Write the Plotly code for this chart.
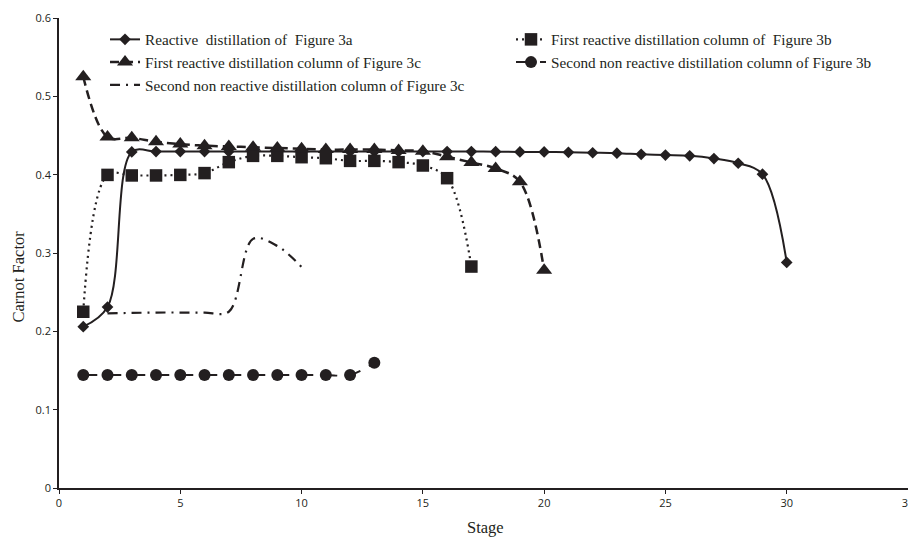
import plotly.graph_objects as go

# ---- data ----
stages_3a = list(range(1, 31))
carnot_3a = [0.206, 0.231, 0.429, 0.4295, 0.4295, 0.4295, 0.4295, 0.4295, 0.4295, 0.4295,
             0.4295, 0.4295, 0.4295, 0.4295, 0.4295, 0.4295, 0.4295, 0.4293, 0.429, 0.429,
             0.4285, 0.428, 0.4275, 0.426, 0.425, 0.424, 0.4206, 0.4146, 0.4006, 0.288]

stages_3b_first = list(range(1, 18))
carnot_3b_first = [0.225, 0.3997, 0.399, 0.399, 0.3997, 0.402, 0.416, 0.424, 0.424, 0.4223,
                   0.421, 0.4176, 0.4176, 0.416, 0.4117, 0.3955, 0.2827]

stages_3c_first = list(range(1, 21))
carnot_3c_first = [0.525, 0.448, 0.447, 0.442, 0.439, 0.437, 0.436, 0.435, 0.434, 0.433,
                   0.432, 0.432, 0.432, 0.431, 0.430, 0.423, 0.4155, 0.408, 0.391, 0.278]

stages_3b_second = list(range(1, 14))
carnot_3b_second = [0.1443, 0.1443, 0.1443, 0.1443, 0.1443, 0.1443, 0.1443, 0.1443, 0.1443,
                    0.1443, 0.1443, 0.1443, 0.160]

stages_3c_second = list(range(2, 11))
carnot_3c_second = [0.223, 0.2235, 0.224, 0.224, 0.224, 0.225, 0.318, 0.309, 0.282]

names = [
    "Reactive  distillation of  Figure 3a",
    "First reactive distillation column of  Figure 3b",
    "First reactive distillation column of Figure 3c",
    "Second non reactive distillation column of Figure 3b",
    "Second non reactive distillation column of Figure 3c",
]

x_ticks = [0, 5, 10, 15, 20, 25, 30, 35]
y_ticks = [0, 0.1, 0.2, 0.3, 0.4, 0.5, 0.6]
y_tick_text = ["0", "0.1", "0.2", "0.3", "0.4", "0.5", "0.6"]

INK = "#231f20"
SERIF = "Liberation Serif"
fig = go.Figure()

fig.add_trace(go.Scatter(
    x=stages_3a, y=carnot_3a, name=names[0], mode="lines+markers", legend="legend",
    line=dict(color=INK, width=2, shape="spline", dash="solid"),
    marker=dict(symbol="diamond", size=9, color=INK)))
fig.add_trace(go.Scatter(
    x=stages_3b_first, y=carnot_3b_first, name=names[1], mode="lines+markers", legend="legend2",
    line=dict(color=INK, width=2.2, shape="spline", dash="2px,4px"),
    marker=dict(symbol="square", size=12.5, color=INK)))
fig.add_trace(go.Scatter(
    x=stages_3c_first, y=carnot_3c_first, name=names[2], mode="lines+markers", legend="legend",
    line=dict(color=INK, width=2.5, shape="spline", dash="9px,5px"),
    marker=dict(symbol="triangle-up", size=14, color=INK)))
fig.add_trace(go.Scatter(
    x=stages_3b_second, y=carnot_3b_second, name=names[3], mode="lines+markers", legend="legend2",
    line=dict(color=INK, width=2, shape="spline", dash="14px,10px"),
    marker=dict(symbol="circle", size=12, color=INK)))
fig.add_trace(go.Scatter(
    x=stages_3c_second, y=carnot_3c_second, name=names[4], mode="lines", legend="legend",
    line=dict(color=INK, width=2.2, shape="spline", dash="10px,6px,2px,6px")))

legend_common = dict(orientation="v", yanchor="top", xanchor="left",
                     font=dict(family=SERIF, size=15.2, color=INK),
                     bgcolor="rgba(0,0,0,0)", itemclick=False, tracegroupgap=0)

fig.update_layout(
    width=908, height=531,
    margin=dict(l=51, r=8, t=10, b=51),
    paper_bgcolor="white", plot_bgcolor="white",
    font=dict(family=SERIF, color=INK),
    legend=dict(x=0.0542, y=0.9894, **legend_common),
    legend2=dict(x=0.5324, y=0.9894, **legend_common),
    xaxis=dict(range=[0, 35], tickvals=x_ticks, ticktext=[str(v) for v in x_ticks],
               showgrid=False, zeroline=False, showline=True, linecolor=INK, linewidth=1.5,
               ticks="outside", ticklen=4, tickcolor=INK, tickwidth=1.2, automargin=False,
               tickfont=dict(family="Open Sans", size=11, color=INK)),
    yaxis=dict(range=[0, 0.6], tickvals=y_ticks, ticktext=y_tick_text,
               showgrid=False, zeroline=False, showline=True, linecolor=INK, linewidth=1.5,
               ticks="outside", ticklen=4, tickcolor=INK, tickwidth=1.2, automargin=False,
               tickfont=dict(family="Open Sans", size=11, color=INK)),
    annotations=[
        dict(text="Carnot Factor", xref="paper", yref="paper", x=-0.0477, y=0.449,
             xanchor="center", yanchor="middle", textangle=-90, showarrow=False,
             font=dict(family=SERIF, size=16.5, color=INK)),
        dict(text="Stage", xref="paper", yref="paper", x=0.5018, y=-0.084,
             xanchor="center", yanchor="middle", showarrow=False,
             font=dict(family=SERIF, size=16.5, color=INK)),
    ],
)

fig.write_html("out.html")
